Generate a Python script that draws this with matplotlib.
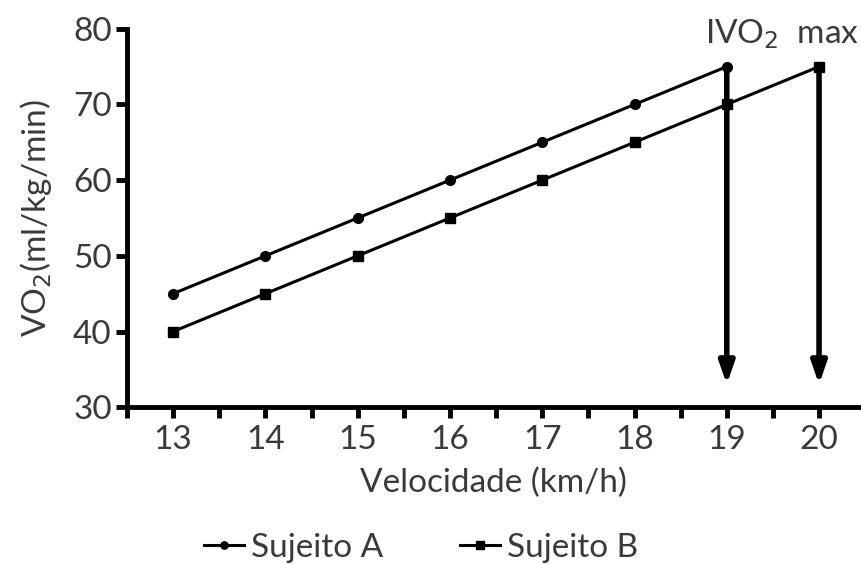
import matplotlib
matplotlib.use("Agg")
import matplotlib.pyplot as plt
from matplotlib.ticker import MultipleLocator

vel_a = [13, 14, 15, 16, 17, 18, 19]
vo2_a = [45, 50, 55, 60, 65, 70, 75]
vel_b = [13, 14, 15, 16, 17, 18, 19, 20]
vo2_b = [40, 45, 50, 55, 60, 65, 70, 75]
arrow_x = [19, 20]
arrow_top = [75, 75]
arrow_bottom = [33, 33]
xticks = [13, 14, 15, 16, 17, 18, 19, 20]
yticks = [30, 40, 50, 60, 70, 80]

plt.rcParams['font.family'] = ['Lato', 'DejaVu Sans']
txt = '#3a3a3a'
fs = 24

fig = plt.figure(figsize=(8.61, 5.64), dpi=100)
ax = fig.add_axes([0.1475, 0.278, 0.852, 0.671])

ax.plot(vel_a, vo2_a, color='black', lw=2.2, marker='o', ms=7, label='Sujeito A')
ax.plot(vel_b, vo2_b, color='black', lw=2.2, marker='s', ms=7.5, label='Sujeito B')

for x, yt, yb in zip(arrow_x, arrow_top, arrow_bottom):
    ax.annotate('', xy=(x, yb), xytext=(x, yt),
                arrowprops=dict(arrowstyle='-|>,head_length=1.3,head_width=0.45',
                                color='black', lw=4, shrinkA=0, shrinkB=0))

ax.text(20.43, 79.3, 'IVO$_2$  max', fontsize=fs, color=txt, ha='right', va='center')

ax.set_xlim(12.5, 20.45)
ax.set_ylim(30, 80)
ax.set_xticks(xticks)
ax.set_yticks(yticks)
ax.xaxis.set_minor_locator(MultipleLocator(0.5))
ax.tick_params(axis='both', which='both', width=3.5, length=8, direction='out',
               labelsize=fs, labelcolor=txt, color='black')
ax.tick_params(axis='x', pad=5)
ax.tick_params(axis='y', pad=3)
for s in ['top', 'right']:
    ax.spines[s].set_visible(False)
for s in ['left', 'bottom']:
    ax.spines[s].set_linewidth(3.5)

ax.set_xlabel('Velocidade (km/h)', fontsize=fs, color=txt, labelpad=9)
ax.set_ylabel('VO$_2$(ml/kg/min)', fontsize=fs, color=txt, labelpad=14)

leg = fig.legend(loc='center', bbox_to_anchor=(421 / 861, 1 - 548 / 564), ncol=2, frameon=False,
                 fontsize=fs, handlelength=1.2, handletextpad=0.2, columnspacing=2.3,
                 markerscale=0.75, borderpad=0)
for t in leg.get_texts():
    t.set_color(txt)

fig.savefig('out.png', dpi=100)
